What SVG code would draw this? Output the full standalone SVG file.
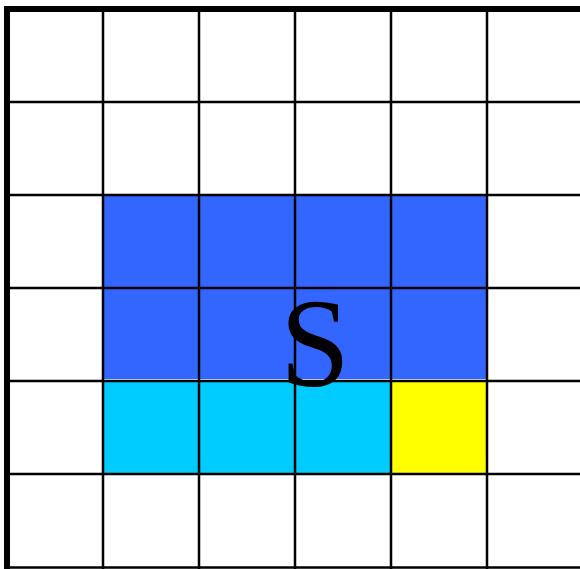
<svg xmlns="http://www.w3.org/2000/svg" width="580" height="569" viewBox="0 0 580 569">
<style>
.g{stroke:#000;stroke-width:2.5;fill:none}
.b{stroke:#000;stroke-width:6;fill:none}
</style>
<rect width="580" height="569" fill="#fff"/>
<g id="cells">
<rect x="104" y="196" width="383" height="183" fill="#3366ff"/>
<rect x="104" y="381" width="287" height="93" fill="#00ccff"/>
<rect x="391" y="381" width="96" height="93" fill="#ffff00"/>
</g>
<g id="grid">
<path class="g" d="M103 9V569M199 9V569M295 9V569M391 9V569M487 9V569"/>
<path class="g" d="M7 102H580M7 195H580M7 288H580M7 381H580M7 474H580M7 567.5H580"/>
<path class="b" d="M7 569V9H580"/>
</g>
<g id="label">
<text x="315" y="386" font-family="Liberation Serif, serif" font-size="126" text-anchor="middle">S</text>
</g>
</svg>
